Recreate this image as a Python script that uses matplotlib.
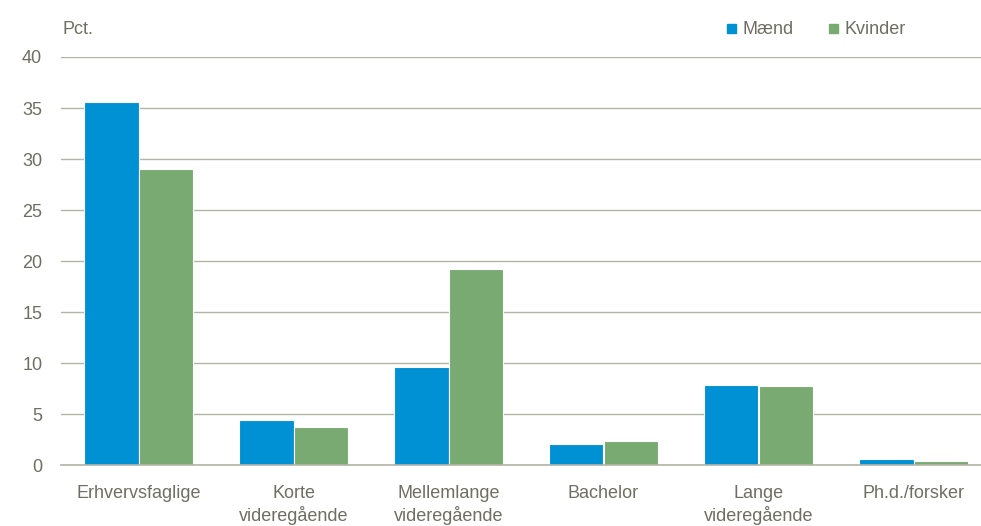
import matplotlib
matplotlib.use("Agg")
import matplotlib.pyplot as plt
import numpy as np
from matplotlib.patches import Rectangle

categories = ["Erhvervsfaglige", "Korte\nvideregående", "Mellemlange\nvideregående",
              "Bachelor", "Lange\nvideregående", "Ph.d./forsker"]
maend = [35.6, 4.4, 9.6, 2.1, 7.9, 0.6]
kvinder = [29.0, 3.75, 19.25, 2.4, 7.8, 0.4]
series_names = ["Mænd", "Kvinder"]
yticks = [0, 5, 10, 15, 20, 25, 30, 35, 40]

blue = "#0090D4"
green = "#78AA72"
textc = "#6E6E62"
gridc = "#B4B3A6"

plt.rcParams['font.family'] = ['Liberation Sans', 'DejaVu Sans']

fig = plt.figure(figsize=(9.81, 5.26), dpi=100)
W, H = 981, 526
left = 61 / W
bottom = 1 - 465.3 / H
top = 1 - 57 / H
ax = fig.add_axes([left, bottom, 1 - left, top - bottom])

x = np.arange(len(categories))
w = 0.352
ax.bar(x - w / 2, maend, width=w, color=blue, edgecolor="white", linewidth=0.8, zorder=3)
ax.bar(x + w / 2, kvinder, width=w, color=green, edgecolor="white", linewidth=0.8, zorder=3)

ax.set_ylim(0, 40)
ax.set_xlim(-0.5, 5.5 - 10 / 155)
ax.set_yticks(yticks)
ax.set_yticklabels([str(t) for t in yticks], fontsize=13, color=textc)
ax.set_xticks(x)
ax.set_xticklabels(categories, fontsize=13, color=textc, linespacing=1.3)
ax.tick_params(axis="y", length=0, pad=13.5)
ax.tick_params(axis="x", length=0, pad=14)
ax.yaxis.grid(True, color=gridc, linewidth=1.0, zorder=0)
ax.set_axisbelow(True)
for s in ["top", "right", "left"]:
    ax.spines[s].set_visible(False)
ax.spines["bottom"].set_color(gridc)
ax.spines["bottom"].set_linewidth(1.2)
ax.spines["bottom"].set_zorder(4)

fig.text(63 / W, 1 - 29 / H, "Pct.", fontsize=13, color=textc, va="center", ha="left")

# legend
sq = 9
for (xs, name, col) in [(727, series_names[0], blue), (829, series_names[1], green)]:
    fig.patches.append(Rectangle((xs / W, 1 - 33 / H), sq / W, sq / H, transform=fig.transFigure,
                                 color=col, figure=fig))
    fig.text((xs + 15) / W, 1 - 29 / H, name, fontsize=13, color=textc, va="center", ha="left")

fig.savefig("out.png", dpi=100)
